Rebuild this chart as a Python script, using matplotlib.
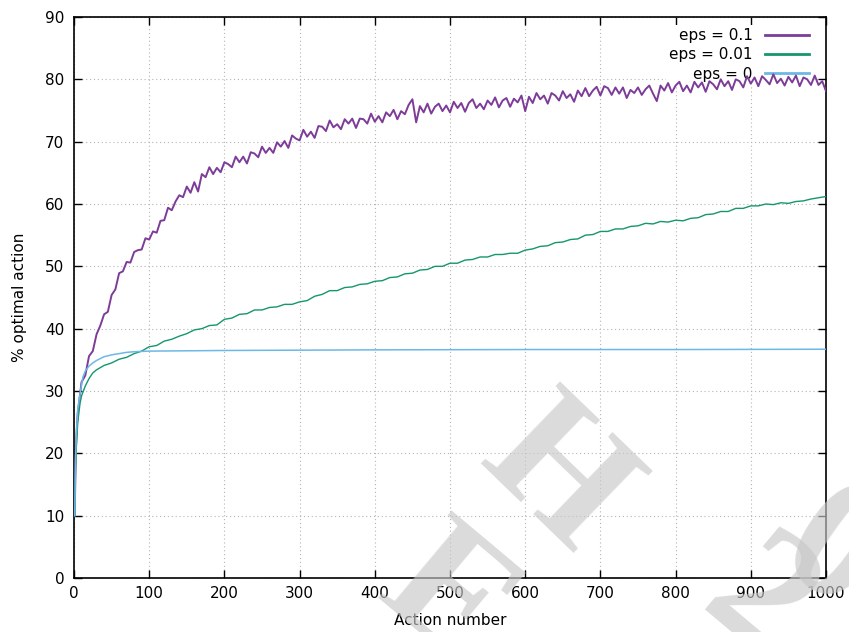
import matplotlib
matplotlib.use("Agg")
import matplotlib.pyplot as plt

# ---------------- data ----------------
eps01_x = [1, 2, 3, 4] + list(range(5, 1001, 5))
eps01_y = [10.0, 18.0, 22.0, 24.5,
    26.5, 31.4, 32.5, 35.6, 36.4, 39.1, 40.5, 42.3, 42.7, 45.4,
    46.3, 48.9, 49.2, 50.7, 50.6, 52.3, 52.6, 52.7, 54.5, 54.3,
    55.6, 55.4, 57.3, 57.4, 59.4, 59.0, 60.4, 61.4, 61.1, 62.8,
    61.8, 63.5, 62.0, 64.8, 64.3, 65.9, 64.8, 65.8, 65.1, 66.7,
    66.4, 65.9, 67.6, 66.7, 67.6, 66.5, 68.3, 68.1, 67.5, 69.2,
    68.2, 69.0, 68.2, 69.9, 69.2, 70.1, 69.0, 71.0, 70.5, 70.2,
    71.9, 70.8, 71.6, 70.6, 72.5, 72.4, 71.7, 73.4, 72.3, 72.8,
    72.0, 73.6, 72.9, 73.7, 72.2, 73.7, 73.6, 72.9, 74.5, 73.2,
    74.1, 73.1, 74.7, 74.1, 75.1, 73.6, 74.9, 74.4, 75.9, 76.8,
    73.1, 75.7, 74.7, 76.1, 74.5, 75.6, 76.1, 74.9, 75.8, 74.7,
    76.4, 75.4, 76.2, 74.8, 76.2, 76.8, 75.4, 76.1, 75.2, 76.6,
    75.9, 77.1, 75.5, 76.6, 77.0, 75.6, 76.9, 76.3, 77.4, 74.9,
    77.2, 76.2, 77.8, 76.8, 77.4, 76.1, 77.8, 77.4, 76.6, 78.1,
    77.0, 77.6, 76.4, 78.2, 77.3, 78.6, 77.3, 78.2, 78.8, 77.4,
    78.9, 78.6, 77.5, 78.7, 77.7, 78.7, 77.0, 78.3, 77.8, 78.7,
    77.5, 78.4, 79.0, 77.7, 76.5, 79.0, 78.2, 79.4, 77.9, 79.0,
    79.6, 78.1, 79.0, 77.9, 79.6, 78.7, 79.5, 78.0, 79.7, 79.2,
    78.4, 80.0, 78.9, 79.7, 78.3, 80.0, 79.7, 78.7, 80.5, 79.3,
    80.3, 78.9, 80.5, 79.9, 79.2, 80.8, 79.4, 80.1, 79.0, 80.4,
    79.5, 80.6, 78.9, 80.3, 80.0, 79.1, 80.6, 79.1, 79.7, 78.1]

eps001_x = [1, 2, 3, 5, 8, 10, 15, 20, 25, 30] + list(range(40, 1001, 10))
eps001_y = [10.0, 17.0, 21.0, 25.0, 28.0, 29.2, 30.8, 32.0, 32.9, 33.4,
    34.1, 34.5, 35.1, 35.4, 36.0, 36.4, 37.1, 37.3, 38.0, 38.3,
    38.8, 39.2, 39.8, 40.0, 40.5, 40.6, 41.5, 41.7, 42.3, 42.4,
    43.0, 43.0, 43.4, 43.5, 43.9, 43.9, 44.3, 44.5, 45.2, 45.5,
    46.1, 46.1, 46.6, 46.7, 47.1, 47.2, 47.6, 47.7, 48.2, 48.3,
    48.8, 48.9, 49.4, 49.5, 50.0, 50.0, 50.5, 50.5, 51.0, 51.1,
    51.5, 51.5, 51.9, 51.9, 52.1, 52.1, 52.6, 52.8, 53.2, 53.3,
    53.8, 53.9, 54.3, 54.4, 55.0, 55.1, 55.6, 55.6, 56.0, 56.0,
    56.4, 56.5, 56.9, 56.8, 57.2, 57.1, 57.4, 57.3, 57.7, 57.8,
    58.3, 58.4, 58.8, 58.8, 59.3, 59.3, 59.7, 59.7, 60.0, 59.9,
    60.2, 60.1, 60.4, 60.5, 60.8, 61.0, 61.2]

eps0_x = [1, 2, 3, 5, 8, 10, 12, 15, 20, 25, 30, 40, 50, 60, 70, 80,
          100, 150, 200, 300, 400, 600, 800, 1000]
eps0_y = [10.0, 19.0, 23.0, 27.0, 29.5, 31.0, 32.3, 33.2, 34.0, 34.5,
          34.9, 35.5, 35.8, 36.0, 36.2, 36.3, 36.4, 36.45, 36.5, 36.55,
          36.6, 36.65, 36.65, 36.7]

labels = ["eps = 0.1", "eps = 0.01", "eps = 0"]
colors = ["#7d3c98", "#14966e", "#6cb8e6"]

x_ticks = list(range(0, 1001, 100))
y_ticks = list(range(0, 91, 10))

# ---------------- figure ----------------
plt.rcParams["font.family"] = ["DejaVu Sans"]
fig = plt.figure(figsize=(8.49, 6.32), dpi=100)
W, H = 849, 632
ax = fig.add_axes([74 / W, 1 - 578 / H, (826 - 74) / W, (578 - 17) / H])
ax.set_axisbelow(True)

ax.plot(eps01_x, eps01_y, color=colors[0], lw=1.4, label=labels[0], zorder=3)
ax.plot(eps001_x, eps001_y, color=colors[1], lw=1.0, label=labels[1], zorder=3)
ax.plot(eps0_x, eps0_y, color=colors[2], lw=1.1, label=labels[2], zorder=3)

ax.set_xlim(0, 1000)
ax.set_ylim(0, 90)
ax.set_xticks(x_ticks)
ax.set_yticks(y_ticks)
ax.grid(True, color="#b4b4b4", lw=0.8, linestyle=(0, (1, 2.5)))
ax.tick_params(axis="both", direction="in", length=6, width=1.0,
               top=True, right=True, labelsize=11, colors="black")
ax.tick_params(axis="x", pad=6)
ax.tick_params(axis="y", pad=7)
for s in ax.spines.values():
    s.set_linewidth(1.2)
    s.set_color("black")

ax.set_xlabel("Action number", fontsize=11)
ax.set_ylabel("% optimal action", fontsize=11)
ax.xaxis.set_label_coords(0.5, (578 - 613) / 561)
ax.yaxis.set_label_coords((27 - 74) / 752, 0.5)

leg = ax.legend(loc="upper right", bbox_to_anchor=((812 - 74) / 752, (578 - 25) / 561),
                markerfirst=False, frameon=True, fancybox=False, framealpha=1.0,
                edgecolor="none", facecolor="white", fontsize=11,
                handlelength=2.9, handletextpad=0.8, labelspacing=0.28,
                borderpad=0.2, borderaxespad=0.0)
for line in leg.get_lines():
    line.set_linewidth(2.0)
leg.set_zorder(2)

# watermark (approximate)
wm = [("E", 445, 602, -40), ("H", 555, 480, -44), ("2", 757, 605, -40), ("0", 832, 555, -35)]
for ch, px, py, rot in wm:
    fig.text(px / W, 1 - py / H, ch, fontsize=125, family="Liberation Serif",
             weight="bold", color="#c8c8c8", alpha=0.65, ha="center", va="center",
             rotation=rot, rotation_mode="anchor", zorder=10)

fig.savefig("out.png", dpi=100)
